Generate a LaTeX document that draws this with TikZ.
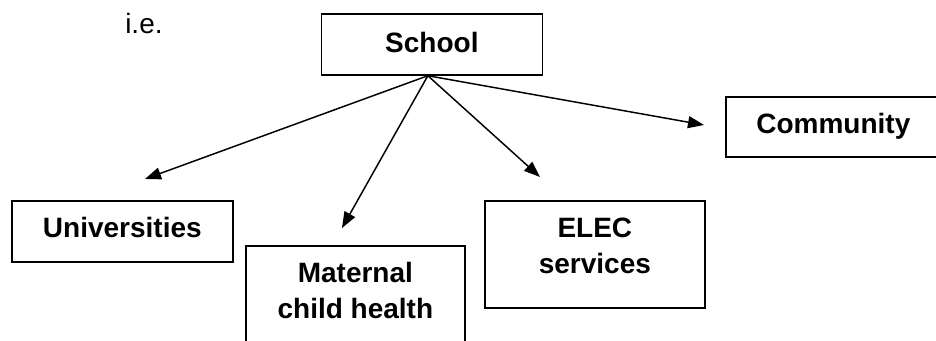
\documentclass[tikz,border=0pt]{standalone}
\usepackage{fontspec}
\setmainfont{Liberation Sans}
\usetikzlibrary{arrows.meta}

\begin{document}
\begin{tikzpicture}[
    x=0.75pt, y=-0.75pt,
    box/.style={draw, line width=1.3pt, inner sep=0pt, anchor=north west,
        align=center, font=\fontsize{21}{27.5}\selectfont\bfseries,
        text height=27.75pt},
    link/.style={-{Triangle[length=12pt,width=9pt]}, line width=1.1pt},
    plain/.style={font=\fontsize{21}{25}\selectfont, inner sep=0pt, anchor=base west}
]

% -------------------------------------------------
% Page frame (boxes run off the right and lower edge)
% -------------------------------------------------

\useasboundingbox (0,0) rectangle (936,341);
\clip (0,0) rectangle (936,341);

% -------------------------------------------------
% Boxes
% -------------------------------------------------

\node[plain] (ie) at (125,34) {i.e.};

\node[box, minimum width=165.75pt, text height=29.25pt, text depth=16.5pt]
  (school) at (320.5,13) {School};

\node[box, minimum width=161.25pt, text depth=17.25pt]
  (community) at (725,96) {Community};

\node[box, minimum width=165.75pt, text depth=18pt]
  (universities) at (11,200) {Universities};

% two-line boxes: text height counts up to the last line
\node[box, minimum width=164.25pt, text height=54.75pt, text depth=31.5pt]
  (maternal) at (245,245) {Maternal\\child health};

\node[box, minimum width=165pt, text height=54.75pt, text depth=25.5pt]
  (elec) at (484,200) {ELEC\\services};

% -------------------------------------------------
% Links from the school
% -------------------------------------------------

\coordinate (hub) at ([xshift=-3pt]school.south);

\coordinate (uni tip)  at (145,179);
\coordinate (mch tip)  at (342,228);
\coordinate (elec tip) at (540,177);
\coordinate (comm tip) at (704,125);

\draw[link] (hub) -- (uni tip);
\draw[link] (hub) -- (mch tip);
\draw[link] (hub) -- (elec tip);
\draw[link] (hub) -- (comm tip);

\end{tikzpicture}
\end{document}
